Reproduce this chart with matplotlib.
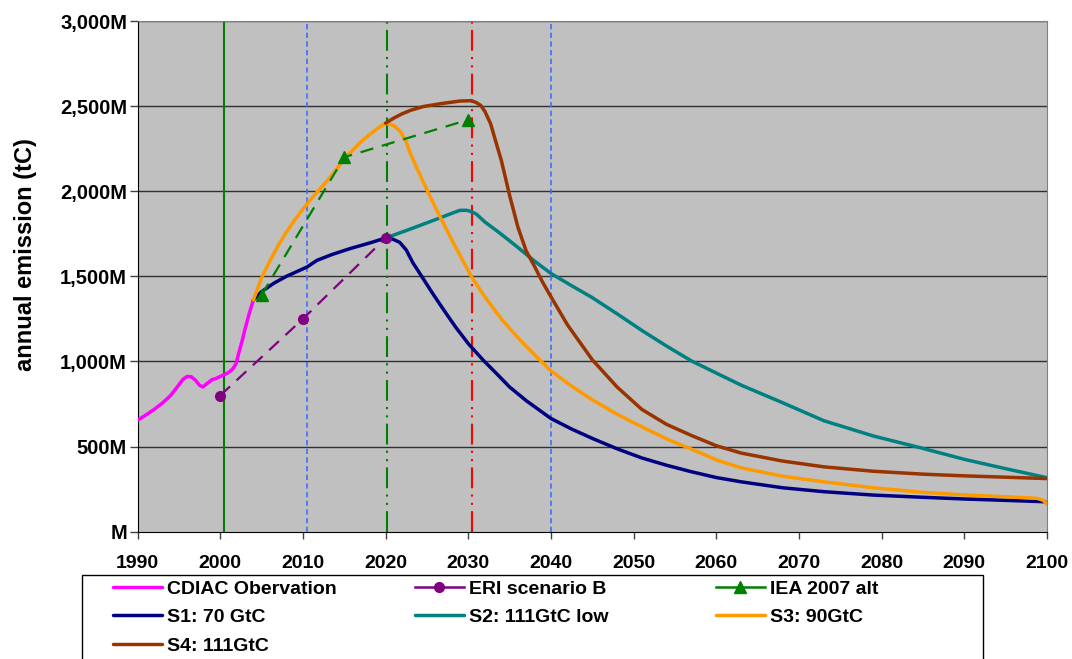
import matplotlib
matplotlib.use("Agg")
import matplotlib.pyplot as plt
from matplotlib.patches import Rectangle
from matplotlib.lines import Line2D

plt.rcParams["font.family"] = ["Liberation Sans", "DejaVu Sans"]
plt.rcParams["font.weight"] = "bold"

# annual emissions, million tC
cdiac_years = [1990, 1991, 1992, 1993, 1994, 1994.8, 1995.5, 1996, 1996.5, 1997, 1997.5, 1997.9, 1998.4,
               1999, 1999.5, 2000, 2000.5, 2001, 2001.5, 2001.9, 2002.3, 2002.7, 2003, 2003.5, 2004]
cdiac_vals = [655, 685, 718, 755, 800, 850, 895, 912, 910, 890, 860, 850, 870,
              893, 900, 912, 922, 935, 955, 985, 1060, 1130, 1190, 1280, 1360]

eri_years = [2000, 2010, 2020]
eri_vals = [800, 1250, 1725]

iea_years = [2005, 2015, 2030]
iea_vals = [1390, 2200, 2420]

s1_years = [2004, 2005, 2006.5, 2008, 2010.5, 2011.7, 2013.5, 2015.7, 2018, 2020, 2020.8, 2021.7, 2022.5,
            2023.3, 2024.5, 2025.7, 2027, 2028.5, 2030, 2031.8, 2033.5, 2035, 2037, 2040, 2042.5, 2045,
            2048, 2051, 2054, 2057, 2060, 2063, 2068, 2073, 2079, 2085, 2090, 2095, 2099.7, 2100]
s1_vals = [1360, 1410, 1460, 1500, 1555, 1594, 1628, 1663, 1695, 1725, 1720, 1700, 1655,
           1580, 1490, 1399, 1305, 1200, 1105, 1008, 925, 850, 770, 665, 603, 548,
           487, 433, 390, 352, 318, 293, 258, 235, 215, 202, 192, 184, 176, 168]

s2_years = [2020, 2023, 2025.8, 2028, 2029, 2029.8, 2030.4, 2031, 2032, 2033.9, 2036, 2037.9, 2040, 2042.5,
            2045, 2048, 2051, 2054, 2057, 2060.5, 2063, 2068, 2073, 2079, 2085, 2090, 2095, 2100]
s2_vals = [1725, 1778, 1829, 1870, 1888, 1888, 1880, 1865, 1820, 1751, 1670, 1594, 1517, 1445,
           1375, 1280, 1182, 1090, 1003, 920, 861, 758, 652, 562, 489, 425, 370, 317]

s3_years = [2004, 2005, 2006, 2007, 2008, 2009, 2010, 2011, 2012, 2013, 2014, 2015, 2016, 2017, 2018,
            2019, 2020, 2021, 2021.8, 2022.5, 2023, 2024.5, 2026, 2028, 2030.4, 2032, 2034, 2036, 2038,
            2040, 2042.5, 2045, 2048, 2051, 2054, 2057, 2060, 2063, 2068, 2073, 2079, 2085, 2090, 2095,
            2098.8, 2099.5, 2100]
s3_vals = [1360, 1490, 1590, 1680, 1760, 1830, 1895, 1955, 2010, 2065, 2125, 2190, 2240, 2290, 2330,
           2368, 2400, 2385, 2350, 2290, 2221, 2060, 1907, 1715, 1497, 1380, 1250, 1140, 1040,
           945, 855, 775, 690, 616, 545, 485, 422, 375, 326, 293, 258, 231, 216, 205,
           196, 185, 163]

s4_years = [2020, 2021, 2022, 2023, 2024.5, 2026.6, 2029, 2030.4, 2031, 2031.5, 2032, 2032.7, 2033.4, 2034,
            2035, 2036, 2037, 2038, 2039, 2040, 2042, 2045, 2048, 2051, 2054, 2057, 2060, 2063, 2068,
            2073, 2079, 2085, 2090, 2095, 2100]
s4_vals = [2400, 2430, 2455, 2475, 2497, 2514, 2530, 2532, 2520, 2505, 2470, 2397, 2280, 2181,
           1976, 1790, 1650, 1560, 1465, 1380, 1215, 1010, 850, 718, 630, 565, 505, 462, 415,
           381, 355, 338, 328, 320, 312]

# reference year markers
marker_years = [2000.4, 2010.5, 2020.2, 2030.4, 2040]

x_ticks = list(range(1990, 2101, 10))
y_ticks = [0, 500, 1000, 1500, 2000, 2500, 3000]

fig = plt.figure(figsize=(10.72, 6.59), dpi=100)
ax = fig.add_axes([0.1283, 0.1932, 0.8484, 0.7749])
ax.set_facecolor("#C0C0C0")

for v in y_ticks[1:]:
    ax.axhline(v, color="#303030", lw=1.0, zorder=1)

dashdotdot = (0, (10, 3, 1, 3, 1, 3))
blue_dash = (0, (3.2, 2.0))
ax.axvline(marker_years[0], color="#008000", lw=1.5, zorder=2)
ax.axvline(marker_years[1], color="#3F6FFF", lw=1.2, ls=blue_dash, zorder=2)
ax.axvline(marker_years[2], color="#008000", lw=1.5, ls=dashdotdot, zorder=2)
ax.axvline(marker_years[3], color="#FF0000", lw=1.5, ls=dashdotdot, zorder=2)
ax.axvline(marker_years[4], color="#3F6FFF", lw=1.2, ls=blue_dash, zorder=2)

lw = 2.5
style = dict(lw=lw, solid_joinstyle="round", solid_capstyle="round")
h_cdiac, = ax.plot(cdiac_years, cdiac_vals, color="#FF00FF", zorder=3, label="CDIAC Obervation", **style)
h_s1, = ax.plot(s1_years, s1_vals, color="#000080", zorder=4, label="S1: 70 GtC", **style)
h_s2, = ax.plot(s2_years, s2_vals, color="#008080", zorder=4, label="S2: 111GtC low", **style)
h_s3, = ax.plot(s3_years, s3_vals, color="#FF9900", zorder=5, label="S3: 90GtC", **style)
h_s4, = ax.plot(s4_years, s4_vals, color="#993300", zorder=6, label="S4: 111GtC", **style)
ax.plot(eri_years, eri_vals, color="#800080", lw=1.6, ls=(0, (6, 4)), marker="o", ms=7, zorder=7)
ax.plot(iea_years, iea_vals, color="#008000", lw=1.6, ls=(0, (6, 4)), marker="^", ms=8, zorder=7)

# legend proxies for the marker series
h_eri = Line2D([], [], color="#800080", lw=1.8, marker="o", ms=7, label="ERI scenario B")
h_iea = Line2D([], [], color="#008000", lw=1.8, marker="^", ms=8, label="IEA 2007 alt")

ax.set_xlim(1990, 2100)
ax.set_ylim(0, 3000)
ax.set_xticks(x_ticks)
ax.set_yticks(y_ticks)
ax.set_xticklabels([str(t) for t in x_ticks])
ax.set_yticklabels(["M" if t == 0 else f"{t:,}M" for t in y_ticks])
ax.tick_params(axis="x", labelsize=14, length=5, width=1, pad=12, color="#404040")
ax.tick_params(axis="y", labelsize=14.5, length=6, width=1, pad=1.5, color="#404040")
for lab in ax.get_xticklabels() + ax.get_yticklabels():
    lab.set_fontweight("bold")

ax.spines["left"].set_color("#000000")
ax.spines["bottom"].set_color("#000000")
ax.spines["top"].set_color("#808080")
ax.spines["right"].set_color("#808080")

ax.set_ylabel("annual emission (tC)", fontsize=17, fontweight="bold")
ax.yaxis.set_label_coords(-0.1105, 0.542)

# legend frame, runs off the bottom of the figure like the original
fig.patches.append(Rectangle((0.0762, -0.1), 0.8411, 0.2275, transform=fig.transFigure,
                             facecolor="white", edgecolor="black", lw=1.0, zorder=0))

columns = [([h_cdiac, h_s1, h_s4], 0.1054), ([h_eri, h_s2], 0.3871), ([h_iea, h_s3], 0.6679)]
for handles, x0 in columns:
    leg = fig.legend(handles=handles, loc="upper left", bbox_to_anchor=(x0, 0.1199),
                     frameon=False, fontsize=14, borderpad=0, borderaxespad=0,
                     handlelength=2.5, handletextpad=0.3, labelspacing=0.57)
    for t in leg.get_texts():
        t.set_fontweight("bold")

fig.savefig("out.png", dpi=100)
